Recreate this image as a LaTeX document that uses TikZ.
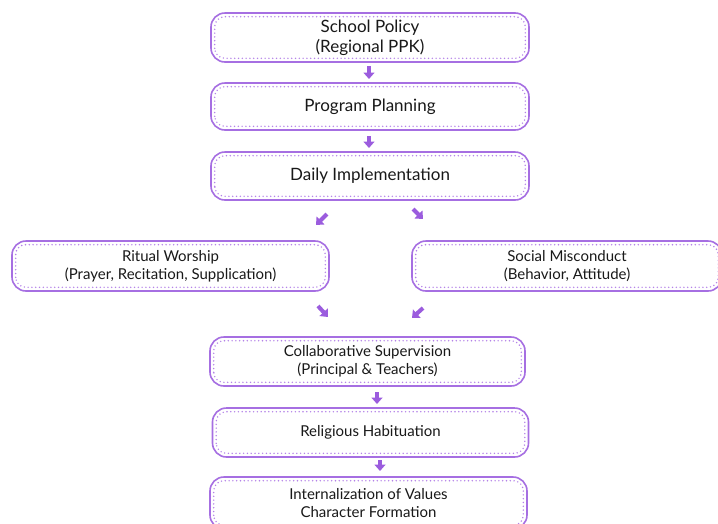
\documentclass[tikz,border=0pt]{standalone}
\usepackage{fontspec}
\setmainfont{Lato}
\usetikzlibrary{arrows.meta}
\definecolor{boxline}{HTML}{A66FE2}
\definecolor{dotline}{HTML}{B482E8}
\definecolor{arrowc}{HTML}{9B5CDE}
\tikzset{
  flowbox/.style={draw=boxline, line width=1.6pt, rounded corners=14pt, fill=white,
    align=center, inner sep=0pt, text=black!90},
  bigtext/.style={font=\fontsize{17}{20}\selectfont},
  smalltext/.style={font=\fontsize{15}{18}\selectfont},
  flowarrow/.style={draw=arrowc, line width=4pt, -{Triangle[width=11pt,length=6.5pt]}},
}
\begin{document}
\begin{tikzpicture}[x=1pt,y=-1pt]
\useasboundingbox[fill=white] (0,0) rectangle (718,523);
\node[flowbox,bigtext,minimum width=318pt,minimum height=49pt] (b1) at (370,37.5) {School Policy\\(Regional PPK)};
\node[flowbox,bigtext,minimum width=318pt,minimum height=47pt] (b2) at (370,106.5) {Program Planning};
\node[flowbox,bigtext,minimum width=318pt,minimum height=48pt] (b3) at (370,176) {Daily Implementation};
\node[flowbox,smalltext,minimum width=317pt,minimum height=50pt] (r) at (170.5,266) {Ritual Worship\\(Prayer, Recitation, Supplication)};
\node[flowbox,smalltext,minimum width=310pt,minimum height=50pt] (s) at (567,266) {Social Misconduct\\(Behavior, Attitude)};
\node[flowbox,smalltext,minimum width=315pt,minimum height=49pt] (c) at (367.5,361.5) {Collaborative Supervision\\(Principal \& Teachers)};
\node[flowbox,smalltext,minimum width=316pt,minimum height=49pt] (h) at (370.5,432.5) {Religious Habituation};
\node[flowbox,smalltext,minimum width=317pt,minimum height=52pt] (i) at (368.5,503) {Internalization of Values\\Character Formation};
\foreach \n in {b1,b2,b3,r,s,c,h,i}{
  \draw[dotline, line width=1.6pt, line cap=round, dash pattern=on 0pt off 3.8pt, rounded corners=10pt]
    ([shift={(4.5pt,4.5pt)}]\n.south west) rectangle ([shift={(-4.5pt,-4.5pt)}]\n.north east);
}
% arrow end points
\coordinate (a1s) at (369,66); \coordinate (a1e) at (369,79);
\coordinate (a2s) at (369,136); \coordinate (a2e) at (369,148);
\coordinate (a3s) at (327,214); \coordinate (a3e) at (316,225);
\coordinate (a4s) at (413,209); \coordinate (a4e) at (423,219);
\coordinate (a5s) at (318,306); \coordinate (a5e) at (328,317);
\coordinate (a6s) at (423,308); \coordinate (a6e) at (412,318);
\coordinate (a7s) at (377,392); \coordinate (a7e) at (377,404);
\coordinate (a8s) at (380,460); \coordinate (a8e) at (380,471);
\draw[flowarrow] (a1s) -- (a1e);
\draw[flowarrow] (a2s) -- (a2e);
\draw[flowarrow] (a3s) -- (a3e);
\draw[flowarrow] (a4s) -- (a4e);
\draw[flowarrow] (a5s) -- (a5e);
\draw[flowarrow] (a6s) -- (a6e);
\draw[flowarrow] (a7s) -- (a7e);
\draw[flowarrow] (a8s) -- (a8e);
\end{tikzpicture}
\end{document}
